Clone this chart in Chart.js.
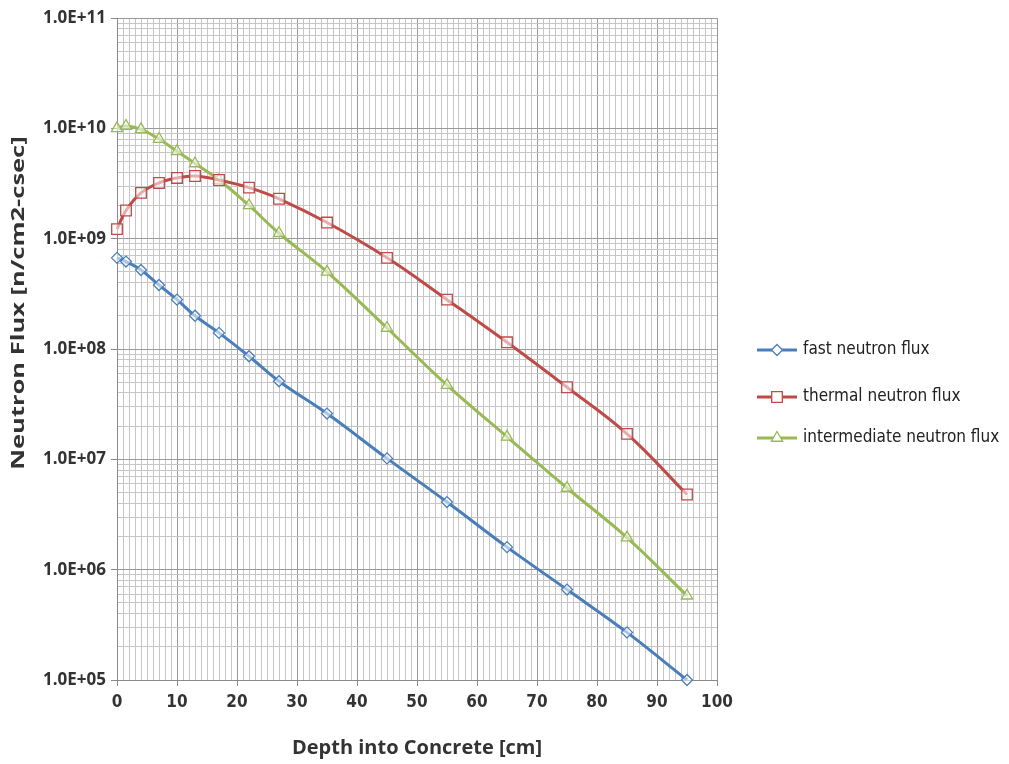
<!DOCTYPE html>
<html>
<head>
<meta charset="utf-8">
<script src="https://cdn.jsdelivr.net/npm/chart.js@4.4.1/dist/chart.umd.min.js"></script>
<style>
html, body { margin: 0; background: #fff; }
#caixa { width: 1009px; height: 764px; }
</style>
</head>
<body>
<div id="caixa"><canvas id="grafico"></canvas></div>
<script>
// profundidade [cm] e fluxos
const profundidade = [0, 1.5, 4, 7, 10, 13, 17, 22, 27, 35, 45, 55, 65, 75, 85, 95];
const fluxoRapido = [6.7e8, 6.2e8, 5.2e8, 3.8e8, 2.8e8, 2.0e8, 1.4e8, 8.6e7, 5.1e7, 2.6e7, 1.02e7, 4.1e6, 1.6e6, 6.6e5, 2.7e5, 1.0e5];
const fluxoTermico = [1.22e9, 1.8e9, 2.6e9, 3.2e9, 3.55e9, 3.7e9, 3.4e9, 2.9e9, 2.3e9, 1.4e9, 6.7e8, 2.8e8, 1.15e8, 4.5e7, 1.7e7, 4.8e6];
const fluxoIntermediario = [1.0e10, 1.05e10, 9.8e9, 8.0e9, 6.2e9, 4.8e9, 3.4e9, 2.0e9, 1.12e9, 5.0e8, 1.55e8, 4.7e7, 1.6e7, 5.5e6, 1.95e6, 5.8e5];

const nomesSeries = ['fast neutron flux', 'thermal neutron flux', 'intermediate neutron flux'];
const decadasY = [1e5, 1e6, 1e7, 1e8, 1e9, 1e10, 1e11];
const divisoesX = [0, 10, 20, 30, 40, 50, 60, 70, 80, 90, 100];
const tituloY = 'Neutron Flux [n/cm2-csec]';
const tituloX = 'Depth into Concrete [cm]';

// linhas de grade secundarias: 1..9 em cada decada
const gradeY = [];
decadasY.forEach((d, i) => {
    if (i === decadasY.length - 1) { gradeY.push(d); return; }
    for (let m = 1; m <= 9; m++) gradeY.push(m * d);
});
const ehDecada = v => Math.abs(Math.log10(v) - Math.round(Math.log10(v))) < 1e-9;

const pontos = serie => profundidade.map((x, i) => ({ x: x, y: serie[i] }));

function serie(nome, dados, cor, marcador, raio) {
    return {
        label: nome,
        data: pontos(dados),
        borderColor: cor,
        borderWidth: 3,
        pointStyle: marcador,
        pointRadius: raio,
        pointHoverRadius: raio,
        pointBorderWidth: 1.3,
        pointBorderColor: cor,
        pointBackgroundColor: 'rgba(255,255,255,0.55)',
        tension: 0.4,
        fill: false,
        clip: false
    };
}

// legenda com linha + marcador, e titulo do eixo y esticado como no original
const extras = {
    id: 'extras',
    afterDraw(chart) {
        const c = chart.ctx;
        const ys = [350, 397, 438];
        c.save();
        chart.data.datasets.forEach((ds, i) => {
            const y = ys[i];
            c.strokeStyle = ds.borderColor;
            c.lineWidth = 3;
            c.beginPath();
            c.moveTo(757, y);
            c.lineTo(797, y);
            c.stroke();
            c.fillStyle = '#fff';
            c.lineWidth = 1.3;
            Chart.helpers.drawPoint(c, { pointStyle: ds.pointStyle, radius: ds.pointRadius, rotation: 0, borderWidth: 1.3 }, 777, y);
            c.fillStyle = '#222';
            c.font = '17px "DejaVu Sans Condensed", sans-serif';
            c.textBaseline = 'middle';
            c.textAlign = 'left';
            c.fillText(ds.label, 803, y);
        });
        c.restore();

        c.save();
        c.translate(19, 303);
        c.rotate(-Math.PI / 2);
        c.scale(1.5, 1);
        c.font = 'bold 17px "Open Sans"';
        c.fillStyle = '#333';
        c.textAlign = 'center';
        c.textBaseline = 'middle';
        c.fillText(tituloY, 0, 0);
        c.restore();
    }
};

const ctx = document.getElementById('grafico').getContext('2d');

const grafico = new Chart(ctx, {
    type: 'line',
    data: {
        datasets: [
            serie(nomesSeries[0], fluxoRapido, '#4a7ebb', 'rectRot', 5.5),
            serie(nomesSeries[1], fluxoTermico, '#be4b48', 'rect', 7.5),
            serie(nomesSeries[2], fluxoIntermediario, '#98b954', 'triangle', 6.5)
        ]
    },
    plugins: [extras],
    options: {
        responsive: true,
        maintainAspectRatio: false,
        animation: false,
        layout: { padding: { top: 18, right: 292, left: 0, bottom: 0 } },
        plugins: {
            legend: { display: false },
            tooltip: { enabled: false }
        },
        scales: {
            x: {
                type: 'linear',
                min: 0,
                max: 100,
                afterFit: s => { s.height = 84; },
                afterBuildTicks: s => {
                    const t = [];
                    for (let v = divisoesX[0]; v <= divisoesX[divisoesX.length - 1]; v++) t.push({ value: v });
                    s.ticks = t;
                },
                ticks: {
                    autoSkip: false,
                    maxRotation: 0,
                    padding: 6,
                    color: '#333',
                    font: { family: '"DejaVu Sans Condensed", sans-serif', size: 17, weight: 'bold' },
                    callback: v => divisoesX.includes(v) ? String(v) : ''
                },
                grid: {
                    color: c => divisoesX.includes(c.tick.value) ? '#9a9a9a' : '#c6c6c6',
                    tickColor: c => divisoesX.includes(c.tick.value) ? '#8a8a8a' : 'rgba(0,0,0,0)',
                    tickLength: 6,
                    lineWidth: 1
                },
                border: { color: '#8a8a8a' },
                title: {
                    display: true,
                    text: tituloX,
                    color: '#333',
                    font: { family: 'Open Sans', size: 20, weight: 'bold' },
                    padding: { top: 6 }
                }
            },
            y: {
                type: 'logarithmic',
                min: decadasY[0],
                max: decadasY[decadasY.length - 1],
                afterFit: s => { s.width = 117; },
                afterBuildTicks: s => { s.ticks = gradeY.map(v => ({ value: v })); },
                ticks: {
                    autoSkip: false,
                    padding: 5,
                    color: '#333',
                    font: { family: 'Open Sans', size: 17, weight: 'bold' },
                    callback: v => ehDecada(v) ? '1.0E+' + String(Math.round(Math.log10(v))).padStart(2, '0') : ''
                },
                grid: {
                    color: c => ehDecada(c.tick.value) ? '#9a9a9a' : '#c6c6c6',
                    tickColor: c => ehDecada(c.tick.value) ? '#8a8a8a' : 'rgba(0,0,0,0)',
                    tickLength: 6,
                    lineWidth: 1
                },
                border: { color: '#8a8a8a' },
                title: { display: false }
            }
        }
    }
});
</script>
</body>
</html>
